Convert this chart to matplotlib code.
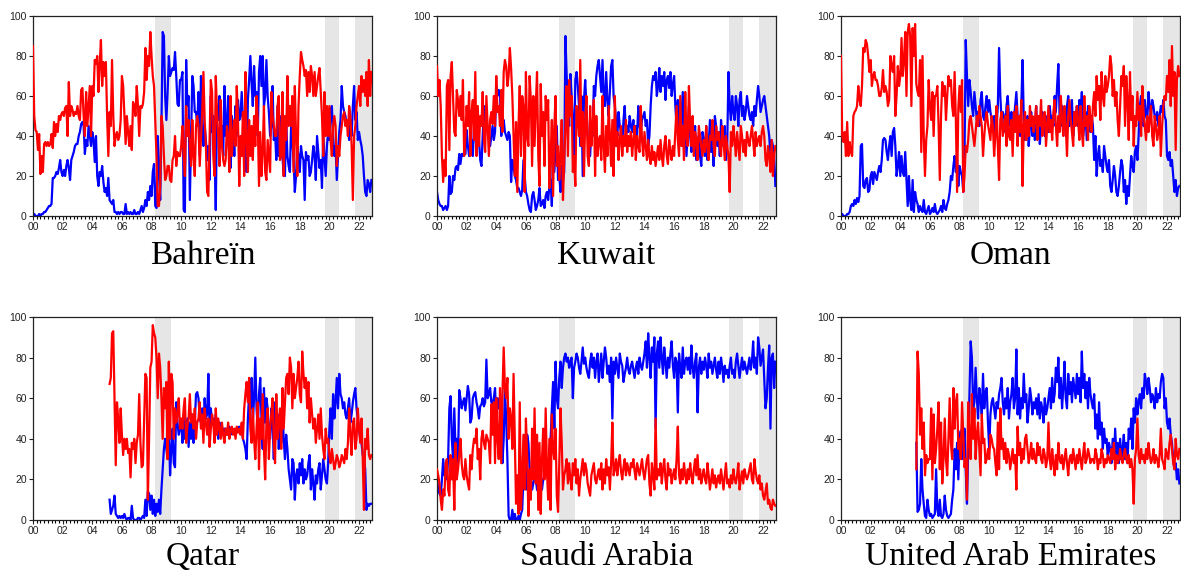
import numpy as np
import matplotlib.pyplot as plt
from matplotlib.ticker import MultipleLocator, FuncFormatter

# %%
# monthly series, 2000M01 - 2022M11 (Qatar / UAE start later)
countries = ["Bahreïn", "Kuwait", "Oman", "Qatar", "Saudi Arabia", "United Arab Emirates"]
start_year = [2000, 2000, 2000, 2005 + 2 / 12, 2000, 2005 + 1 / 12]

bahrain_blue = [
    1, 1, 0, 0, 0, 1, 0, 1, 1, 2, 2, 3,
    4, 5, 5, 6, 19, 19, 20, 22, 21, 24, 28, 22,
    20, 23, 20, 25, 28, 24, 18, 28, 30, 32, 35, 36,
    36, 40, 42, 46, 47, 45, 31, 38, 35, 45, 40, 35,
    42, 38, 27, 40, 20, 15, 22, 20, 25, 17, 12, 14,
    10, 19, 8, 7, 6, 8, 2, 2, 1, 2, 1, 2,
    2, 1, 1, 6, 1, 2, 1, 2, 1, 1, 3, 1,
    1, 2, 1, 3, 5, 2, 4, 8, 5, 12, 8, 15,
    10, 22, 26, 5, 4, 40, 22, 8, 45, 92, 90, 60,
    48, 62, 80, 70, 72, 74, 73, 82, 70, 56, 55, 68,
    68, 72, 3, 2, 78, 55, 60, 8, 40, 70, 65, 52,
    52, 45, 62, 30, 70, 55, 35, 45, 38, 28, 35, 18,
    60, 42, 50, 32, 3, 55, 48, 60, 38, 45, 30, 65,
    40, 45, 60, 35, 24, 50, 45, 30, 55, 40, 58, 48,
    50, 62, 48, 40, 30, 22, 58, 68, 80, 66, 55, 75,
    60, 62, 40, 72, 80, 65, 80, 55, 60, 78, 60, 52,
    40, 45, 65, 38, 42, 28, 55, 30, 42, 50, 30, 20,
    20, 48, 30, 25, 22, 45, 38, 28, 12, 20, 35, 30,
    22, 35, 30, 28, 8, 32, 28, 30, 20, 22, 28, 35,
    30, 18, 40, 32, 24, 28, 14, 40, 30, 20, 35, 42,
    38, 52, 55, 40, 30, 35, 18, 30, 42, 48, 65, 55,
    52, 50, 45, 45, 38, 48, 40, 55, 65, 48, 52, 38,
    42, 38, 35, 30, 20, 12, 10, 18, 16, 12, 18,
]
bahrain_red = [
    85, 50, 43, 42, 33, 41, 21, 30, 22, 36, 37, 35,
    37, 35, 36, 41, 34, 47, 40, 46, 42, 50, 48, 51,
    52, 50, 54, 55, 40, 67, 50, 55, 53, 50, 52, 51,
    55, 50, 48, 63, 64, 50, 40, 62, 45, 55, 65, 40,
    65, 60, 78, 76, 80, 62, 76, 88, 65, 77, 70, 77,
    50, 30, 52, 45, 78, 50, 35, 40, 42, 38, 40, 48,
    70, 65, 50, 36, 50, 42, 35, 45, 33, 57, 55, 50,
    65, 55, 40, 55, 54, 56, 62, 84, 68, 80, 75, 92,
    80, 70, 65, 48, 30, 5, 5, 15, 50, 45, 30, 18,
    20, 25, 25, 18, 17, 28, 30, 40, 25, 32, 30, 30,
    35, 45, 30, 20, 55, 40, 48, 35, 25, 48, 30, 20,
    45, 50, 45, 25, 38, 52, 72, 48, 35, 12, 10, 40,
    68, 62, 30, 20, 70, 52, 40, 25, 58, 35, 28, 25,
    28, 45, 40, 22, 60, 30, 40, 48, 35, 65, 48, 15,
    40, 30, 52, 20, 72, 38, 22, 48, 30, 45, 28, 50,
    35, 60, 48, 15, 42, 20, 32, 55, 22, 18, 38, 30,
    22, 62, 50, 45, 40, 40, 55, 60, 28, 30, 62, 20,
    50, 38, 70, 45, 55, 45, 60, 22, 65, 40, 20, 55,
    70, 82, 78, 75, 70, 73, 60, 72, 62, 75, 70, 60,
    72, 60, 65, 70, 74, 62, 50, 30, 62, 40, 55, 40,
    55, 38, 30, 45, 50, 45, 25, 35, 30, 40, 45, 50,
    52, 45, 48, 40, 55, 50, 35, 8, 40, 45, 55, 60,
    65, 55, 70, 62, 68, 60, 72, 55, 78, 60, 72,
]

kuwait_blue = [
    12, 8, 6, 5, 5, 3, 4, 5, 3, 5, 20, 11,
    12, 20, 18, 24, 25, 23, 31, 26, 31, 30, 32, 31,
    43, 35, 30, 31, 38, 30, 45, 40, 35, 40, 38, 28,
    25, 40, 55, 50, 44, 42, 38, 35, 40, 45, 38, 42,
    65, 60, 63, 62, 40, 45, 48, 42, 40, 38, 42, 40,
    17, 28, 25, 20, 18, 14, 14, 12, 10, 13, 28, 20,
    12, 10, 6, 3, 2, 10, 12, 8, 3, 5, 8, 14,
    5, 6, 8, 4, 10, 12, 8, 15, 18, 5, 34, 22,
    34, 45, 18, 20, 12, 25, 18, 22, 90, 70, 55, 45,
    71, 60, 48, 28, 68, 72, 65, 55, 35, 60, 20, 58,
    68, 55, 40, 35, 30, 44, 40, 65, 60, 70, 75, 78,
    70, 62, 78, 60, 55, 72, 58, 50, 62, 75, 78, 60,
    55, 48, 40, 52, 45, 42, 35, 48, 55, 40, 45, 42,
    50, 45, 42, 48, 38, 45, 40, 55, 45, 42, 48, 50,
    52, 45, 48, 35, 40, 55, 65, 70, 68, 72, 60, 65,
    74, 62, 70, 65, 72, 58, 68, 70, 64, 72, 60, 66,
    70, 55, 45, 58, 40, 38, 50, 62, 35, 48, 30, 42,
    55, 40, 32, 48, 38, 45, 28, 35, 40, 30, 25, 42,
    38, 30, 45, 28, 35, 48, 32, 40, 25, 50, 45, 35,
    42, 30, 48, 38, 35, 45, 28, 35, 72, 55, 48, 60,
    52, 48, 60, 55, 45, 58, 62, 50, 55, 48, 52, 60,
    55, 50, 48, 52, 45, 55, 50, 58, 65, 60, 52, 55,
    58, 60, 55, 50, 45, 40, 30, 38, 35, 30, 15,
]
kuwait_red = [
    75, 60, 68, 55, 30, 17, 28, 20, 65, 68, 33, 70,
    77, 60, 42, 40, 63, 58, 50, 60, 48, 68, 30, 40,
    55, 45, 62, 30, 52, 58, 38, 72, 30, 55, 35, 50,
    45, 62, 38, 32, 60, 45, 30, 48, 52, 46, 60, 45,
    70, 52, 55, 45, 63, 42, 72, 78, 75, 65, 70, 84,
    74, 60, 40, 20, 47, 12, 45, 65, 30, 60, 55, 12,
    72, 40, 35, 70, 58, 25, 60, 35, 55, 72, 30, 15,
    66, 40, 52, 25, 60, 48, 58, 14, 30, 48, 10, 45,
    60, 25, 35, 18, 30, 48, 8, 28, 45, 65, 30, 68,
    50, 60, 22, 30, 15, 55, 50, 40, 78, 35, 52, 20,
    48, 60, 30, 25, 55, 35, 45, 58, 20, 50, 30, 38,
    40, 28, 60, 35, 22, 45, 30, 55, 40, 25, 48, 20,
    60, 35, 42, 28, 38, 45, 30, 40, 35, 48, 32, 40,
    35, 42, 30, 38, 45, 28, 40, 35, 32, 55, 38, 30,
    42, 35, 28, 38, 30, 26, 35, 28, 32, 25, 30, 35,
    28, 38, 30, 25, 35, 40, 30, 26, 38, 32, 28, 35,
    30, 42, 55, 38, 30, 60, 35, 45, 28, 62, 40, 35,
    65, 45, 35, 50, 30, 42, 38, 28, 45, 40, 35, 30,
    38, 32, 45, 35, 28, 40, 38, 48, 35, 30, 45, 38,
    42, 35, 30, 45, 38, 28, 40, 35, 30, 12, 42, 35,
    45, 38, 30, 42, 35, 28, 45, 40, 32, 38, 30, 42,
    38, 35, 40, 45, 38, 30, 42, 35, 38, 40, 35, 42,
    45, 40, 28, 25, 35, 30, 22, 38, 20, 30, 35,
]

oman_blue = [
    1, 1, 0, 0, 0, 1, 1, 2, 5, 6, 5, 8,
    6, 9, 7, 10, 35, 36, 15, 14, 18, 19, 12, 13,
    20, 22, 16, 22, 20, 18, 22, 25, 22, 28, 38, 39,
    38, 32, 28, 35, 40, 30, 42, 44, 35, 20, 25, 32,
    20, 30, 22, 20, 32, 18, 5, 20, 8, 3, 18, 2,
    12, 8, 6, 2, 5, 3, 2, 8, 2, 1, 3, 5,
    1, 2, 4, 2, 6, 2, 1, 2, 3, 5, 2, 8,
    4, 3, 6, 8, 12, 20, 18, 25, 30, 22, 28, 15,
    25, 22, 20, 12, 30, 88, 70, 55, 68, 62, 55, 50,
    62, 55, 48, 52, 45, 58, 62, 50, 48, 55, 60, 52,
    58, 52, 48, 44, 50, 40, 45, 55, 84, 60, 48, 52,
    50, 42, 55, 60, 50, 45, 52, 40, 48, 55, 62, 50,
    45, 40, 55, 78, 48, 38, 42, 50, 35, 45, 52, 40,
    48, 38, 55, 42, 50, 36, 45, 52, 48, 40, 45, 50,
    42, 55, 48, 50, 45, 60, 52, 65, 76, 50, 45, 55,
    48, 52, 40, 55, 60, 45, 50, 58, 40, 52, 48, 55,
    45, 58, 50, 62, 40, 45, 52, 38, 55, 48, 42, 50,
    45, 28, 40, 20, 30, 35, 25, 28, 22, 35, 30, 25,
    22, 28, 15, 12, 18, 25, 20, 12, 10, 15, 22, 28,
    25, 12, 18, 6, 15, 10, 20, 30, 25, 22, 32, 35,
    28, 40, 55, 60, 52, 45, 58, 50, 48, 62, 55, 50,
    58, 55, 50, 48, 52, 45, 50, 55, 52, 58, 50, 48,
    30, 28, 32, 25, 28, 20, 12, 18, 10, 14, 15,
]
oman_red = [
    80, 40, 37, 42, 30, 47, 30, 37, 32, 30, 50, 52,
    53, 55, 65, 58, 55, 65, 84, 82, 88, 86, 80, 72,
    78, 65, 70, 72, 68, 68, 65, 60, 60, 64, 73, 62,
    65, 62, 55, 58, 80, 75, 72, 80, 50, 60, 75, 65,
    70, 89, 70, 78, 92, 60, 92, 96, 90, 55, 94, 80,
    96, 66, 62, 60, 78, 32, 80, 40, 20, 38, 45, 68,
    55, 48, 62, 40, 60, 60, 65, 46, 18, 50, 67, 60,
    65, 48, 60, 70, 65, 68, 55, 50, 72, 48, 12, 54,
    65, 52, 68, 12, 20, 35, 32, 38, 48, 50, 45, 40,
    35, 42, 50, 45, 55, 50, 45, 30, 40, 48, 52, 46,
    42, 38, 50, 45, 30, 40, 55, 35, 18, 48, 52, 40,
    45, 50, 35, 55, 40, 38, 48, 30, 52, 42, 55, 35,
    50, 42, 58, 15, 45, 52, 38, 48, 40, 55, 45, 50,
    42, 48, 55, 38, 50, 45, 58, 40, 48, 52, 35, 45,
    55, 42, 48, 38, 52, 58, 45, 35, 50, 42, 60, 48,
    40, 55, 45, 30, 50, 58, 48, 42, 35, 52, 45, 55,
    48, 38, 55, 42, 35, 60, 45, 50, 38, 55, 48, 42,
    55, 62, 50, 70, 58, 65, 48, 72, 60, 55, 70, 62,
    65, 70, 80, 75, 60, 68, 55, 62, 48, 40, 55, 70,
    65, 75, 45, 70, 58, 38, 72, 48, 60, 35, 50, 45,
    62, 48, 55, 40, 65, 52, 45, 38, 50, 42, 48, 55,
    40, 35, 50, 45, 38, 42, 50, 30, 45, 55, 60, 58,
    70, 62, 78, 55, 85, 60, 72, 33, 68, 75, 70,
]

qatar_blue = [
    10, 3, 5, 7, 12, 3, 2, 1, 2, 1,
    2, 1, 3, 1, 0, 1, 1, 0, 7, 1, 0, 0,
    0, 1, 1, 0, 1, 2, 1, 10, 2, 14, 13, 5,
    12, 3, 10, 2, 8, 4, 10, 3, 15, 25, 35, 40,
    35, 30, 45, 22, 35, 45, 28, 26, 58, 48, 42, 45,
    48, 38, 52, 40, 45, 50, 36, 48, 40, 52, 38, 48,
    62, 63, 60, 50, 48, 55, 45, 60, 50, 52, 72, 45,
    55, 48, 50, 42, 52, 45, 40, 48, 44, 46, 42, 45,
    45, 42, 44, 46, 42, 45, 43, 44, 42, 45, 44, 46,
    44, 45, 40, 38, 35, 30, 50, 62, 55, 70, 48, 60,
    80, 55, 45, 62, 70, 50, 35, 65, 48, 60, 55, 42,
    40, 55, 48, 30, 58, 45, 52, 35, 45, 38, 55, 40,
    30, 42, 35, 25, 20, 15, 30, 28, 10, 22, 25, 18,
    28, 22, 30, 18, 25, 20, 22, 28, 32, 15, 25, 18,
    10, 22, 18, 25, 28, 15, 22, 30, 25, 20, 18, 28,
    45, 55, 40, 62, 50, 58, 70, 55, 72, 62, 60, 55,
    58, 52, 50, 55, 60, 48, 52, 58, 62, 65, 55, 50,
    45, 40, 38, 32, 30, 25, 5, 8, 7, 8, 8,
]
qatar_red = [
    67, 70, 92, 93, 60, 27, 58, 50, 38, 55,
    42, 32, 40, 35, 40, 33, 35, 21, 38, 35, 40, 28,
    38, 42, 62, 38, 26, 27, 50, 72, 70, 10, 40, 75,
    78, 96, 92, 90, 80, 60, 82, 75, 60, 40, 65, 55,
    68, 30, 78, 40, 72, 68, 40, 55, 48, 52, 60, 45,
    50, 45, 55, 60, 38, 46, 50, 62, 48, 52, 45, 55,
    40, 48, 50, 58, 45, 52, 38, 55, 48, 42, 50, 36,
    45, 52, 48, 38, 55, 42, 50, 45, 40, 48, 42, 38,
    45, 42, 48, 40, 44, 46, 42, 45, 40, 46, 43, 45,
    42, 48, 40, 55, 62, 68, 58, 70, 45, 38, 55, 40,
    30, 45, 58, 25, 50, 40, 62, 35, 20, 48, 55, 30,
    45, 52, 60, 38, 28, 62, 40, 48, 55, 35, 65, 45,
    58, 70, 72, 62, 80, 75, 55, 72, 60, 65, 70, 78,
    62, 58, 83, 72, 65, 70, 55, 68, 48, 60, 52, 45,
    50, 38, 45, 52, 40, 55, 42, 35, 30, 45, 38, 40,
    32, 28, 35, 30, 25, 28, 32, 30, 26, 28, 32, 30,
    28, 35, 30, 38, 55, 42, 32, 48, 50, 35, 40, 55,
    45, 38, 50, 30, 5, 40, 35, 45, 32, 30, 32,
]

saudi_blue = [
    20, 15, 13, 12, 20, 30, 22, 25, 20, 30, 55, 61,
    40, 30, 55, 35, 40, 28, 64, 60, 55, 58, 60, 54,
    60, 66, 62, 48, 50, 60, 62, 63, 58, 55, 50, 56,
    57, 60, 56, 58, 79, 60, 62, 65, 58, 57, 60, 65,
    50, 60, 55, 60, 45, 28, 40, 65, 50, 30, 2, 0,
    0, 5, 0, 3, 0, 0, 2, 0, 3, 5, 22, 25,
    15, 42, 38, 25, 20, 15, 18, 22, 20, 15, 14, 16,
    18, 15, 20, 22, 25, 30, 18, 35, 40, 55, 68, 45,
    78, 60, 55, 70, 78, 65, 75, 80, 82, 78, 80, 75,
    78, 80, 60, 75, 78, 82, 80, 75, 72, 78, 85, 77,
    80, 75, 72, 70, 78, 82, 75, 80, 70, 78, 82, 68,
    75, 82, 70, 78, 85, 80, 72, 76, 68, 80, 50, 78,
    72, 80, 75, 70, 82, 78, 76, 68, 72, 75, 80, 74,
    72, 76, 78, 74, 70, 75, 78, 72, 80, 76, 74, 78,
    82, 88, 75, 92, 80, 70, 85, 78, 90, 45, 82, 88,
    75, 90, 80, 72, 85, 78, 70, 80, 75, 82, 88, 76,
    70, 80, 78, 53, 82, 75, 70, 85, 72, 78, 80, 74,
    80, 72, 86, 75, 70, 78, 82, 53, 75, 80, 72, 78,
    74, 80, 76, 70, 82, 75, 78, 72, 76, 80, 74, 70,
    78, 72, 80, 75, 68, 76, 72, 74, 70, 76, 80, 72,
    74, 70, 78, 82, 76, 70, 75, 80, 74, 78, 75, 72,
    76, 80, 74, 78, 88, 75, 80, 72, 90, 85, 76, 80,
    84, 70, 55, 60, 75, 86, 45, 80, 82, 65, 78,
]
saudi_red = [
    25, 22, 18, 10, 5, 15, 12, 28, 30, 15, 12, 32,
    20, 30, 5, 38, 20, 25, 32, 40, 28, 22, 20, 30,
    22, 18, 15, 32, 25, 35, 40, 38, 45, 30, 35, 20,
    40, 44, 38, 35, 42, 40, 38, 28, 57, 42, 58, 28,
    60, 40, 30, 65, 28, 62, 85, 65, 60, 70, 40, 55,
    50, 35, 72, 40, 8, 22, 3, 58, 5, 20, 42, 15,
    50, 32, 2, 25, 10, 45, 20, 55, 18, 42, 5, 38,
    3, 30, 45, 20, 55, 25, 10, 40, 5, 52, 35, 30,
    45, 12, 4, 28, 55, 38, 15, 22, 25, 30, 18, 28,
    20, 15, 28, 22, 30, 18, 25, 12, 20, 25, 30, 22,
    28, 25, 18, 15, 12, 22, 25, 28, 20, 18, 22, 25,
    20, 28, 15, 25, 18, 30, 22, 26, 15, 28, 48, 22,
    25, 30, 22, 28, 32, 24, 20, 26, 30, 22, 28, 25,
    22, 28, 26, 30, 24, 20, 28, 25, 22, 26, 30, 24,
    20, 25, 30, 32, 18, 12, 28, 22, 15, 50, 20, 25,
    22, 28, 18, 25, 30, 20, 15, 28, 22, 25, 18, 22,
    25, 20, 30, 46, 22, 18, 25, 20, 28, 22, 18, 25,
    20, 28, 22, 18, 25, 30, 22, 32, 20, 25, 18, 22,
    25, 20, 18, 28, 22, 15, 20, 25, 18, 22, 16, 20,
    22, 18, 25, 20, 15, 22, 28, 18, 20, 16, 22, 18,
    25, 20, 18, 22, 28, 15, 20, 24, 18, 25, 22, 20,
    22, 25, 28, 20, 18, 30, 24, 20, 18, 22, 15, 18,
    12, 10, 14, 18, 8, 10, 6, 5, 10, 8, 7,
]

uae_blue = [
    38, 4, 5, 8, 30, 15, 8, 2, 1, 10, 5,
    2, 3, 1, 2, 3, 25, 5, 2, 10, 2, 1, 3,
    12, 5, 2, 1, 2, 3, 10, 15, 35, 25, 38, 20,
    40, 44, 30, 35, 45, 25, 8, 35, 62, 88, 80, 55,
    58, 75, 60, 50, 65, 60, 52, 72, 55, 63, 65, 48,
    35, 52, 58, 60, 55, 50, 58, 55, 62, 65, 70, 58,
    52, 60, 55, 65, 50, 58, 62, 70, 55, 60, 84, 52,
    65, 50, 60, 55, 72, 58, 62, 48, 55, 65, 60, 52,
    58, 55, 60, 52, 62, 50, 58, 55, 48, 60, 52, 55,
    60, 65, 55, 70, 58, 62, 75, 68, 80, 60, 70, 55,
    65, 78, 60, 55, 72, 62, 68, 58, 70, 65, 60, 72,
    62, 70, 58, 83, 65, 72, 60, 68, 55, 70, 62, 58,
    55, 62, 45, 52, 40, 58, 42, 48, 35, 45, 38, 40,
    32, 38, 35, 28, 40, 30, 45, 32, 38, 28, 40, 30,
    35, 42, 30, 38, 28, 45, 40, 50, 35, 55, 48, 60,
    52, 58, 62, 55, 65, 60, 72, 68, 62, 70, 65, 58,
    62, 60, 55, 65, 58, 62, 60, 68, 72, 70, 55, 60,
    48, 45, 50, 42, 38, 30, 25, 28, 20, 25, 18,
]
uae_red = [
    25, 83, 72, 42, 55, 35, 48, 22, 32, 28, 30,
    30, 55, 20, 52, 28, 35, 45, 58, 25, 48, 18, 30,
    50, 30, 22, 40, 60, 38, 30, 65, 45, 58, 62, 35,
    40, 30, 58, 42, 26, 30, 10, 58, 40, 30, 62, 40,
    55, 30, 42, 48, 35, 22, 52, 38, 40, 28, 30, 35,
    30, 42, 40, 36, 35, 28, 22, 48, 25, 55, 35, 40,
    30, 38, 28, 35, 32, 25, 30, 35, 28, 32, 15, 46,
    32, 38, 28, 35, 30, 40, 42, 35, 28, 32, 38, 30,
    35, 30, 28, 38, 32, 36, 30, 28, 35, 32, 26, 30,
    48, 30, 25, 35, 28, 22, 32, 25, 38, 30, 28, 32,
    25, 30, 35, 28, 22, 30, 32, 28, 35, 30, 25, 32,
    28, 35, 30, 25, 32, 38, 28, 30, 35, 32, 28, 30,
    30, 28, 35, 32, 25, 30, 28, 35, 32, 26, 30, 28,
    32, 30, 28, 35, 30, 38, 25, 32, 28, 30, 35, 30,
    28, 32, 35, 30, 28, 32, 26, 30, 25, 8, 30, 35,
    50, 32, 28, 35, 30, 32, 28, 35, 30, 38, 32, 28,
    30, 35, 28, 32, 30, 26, 32, 45, 30, 28, 25, 35,
    32, 30, 38, 42, 35, 28, 25, 40, 32, 30, 35,
]

blue_series = [bahrain_blue, kuwait_blue, oman_blue, qatar_blue, saudi_blue, uae_blue]
red_series = [bahrain_red, kuwait_red, oman_red, qatar_red, saudi_red, uae_red]

# shaded periods
shade_periods = [(2008.25, 2009.33), (2019.67, 2020.67), (2021.75, 2023.0)]

# %%
plt.rcParams["font.family"] = ["Liberation Sans", "DejaVu Sans"]

W, H = 1181, 576
fig = plt.figure(figsize=(W / 100, H / 100), dpi=100)

col_left = [33, 437, 841]
ax_w = 339
rows = [(16, 216), (317, 520)]
title_y = [256, 557]

for k, name in enumerate(countries):
    r, c = divmod(k, 3)
    top, bot = rows[r]
    ax = fig.add_axes([col_left[c] / W, 1 - bot / H, ax_w / W, (bot - top) / H])

    for a, b in shade_periods:
        ax.axvspan(a, b, color="#e6e6e6", lw=0, zorder=0)

    yb = np.array(blue_series[k], dtype=float)
    yr = np.array(red_series[k], dtype=float)
    xb = start_year[k] + np.arange(len(yb)) / 12
    xr = start_year[k] + np.arange(len(yr)) / 12
    ax.plot(xb, yb, color="#0000ff", lw=1.6, zorder=2)
    ax.plot(xr, yr, color="#ff0000", lw=1.6, zorder=3)

    ax.set_xlim(2000, 2022 + 10.5 / 12)
    ax.set_ylim(0, 100)
    ax.yaxis.set_major_locator(MultipleLocator(20))
    ax.xaxis.set_major_locator(MultipleLocator(2))
    ax.xaxis.set_minor_locator(MultipleLocator(0.25))
    ax.xaxis.set_major_formatter(FuncFormatter(lambda v, p: f"{int(round(v)) % 100:02d}"))
    ax.tick_params(axis="both", labelsize=7.5, colors="#222222", length=3, width=0.8,
                   pad=1.5)
    ax.tick_params(axis="x", which="minor", length=2.5, width=0.8)
    for s in ax.spines.values():
        s.set_linewidth(0.9)
        s.set_color("#222222")

    fig.text((col_left[c] + ax_w / 2) / W, 1 - title_y[r] / H, name,
             family="Liberation Serif", fontsize=24, ha="center", va="center")

fig.savefig("out.png", dpi=100)
